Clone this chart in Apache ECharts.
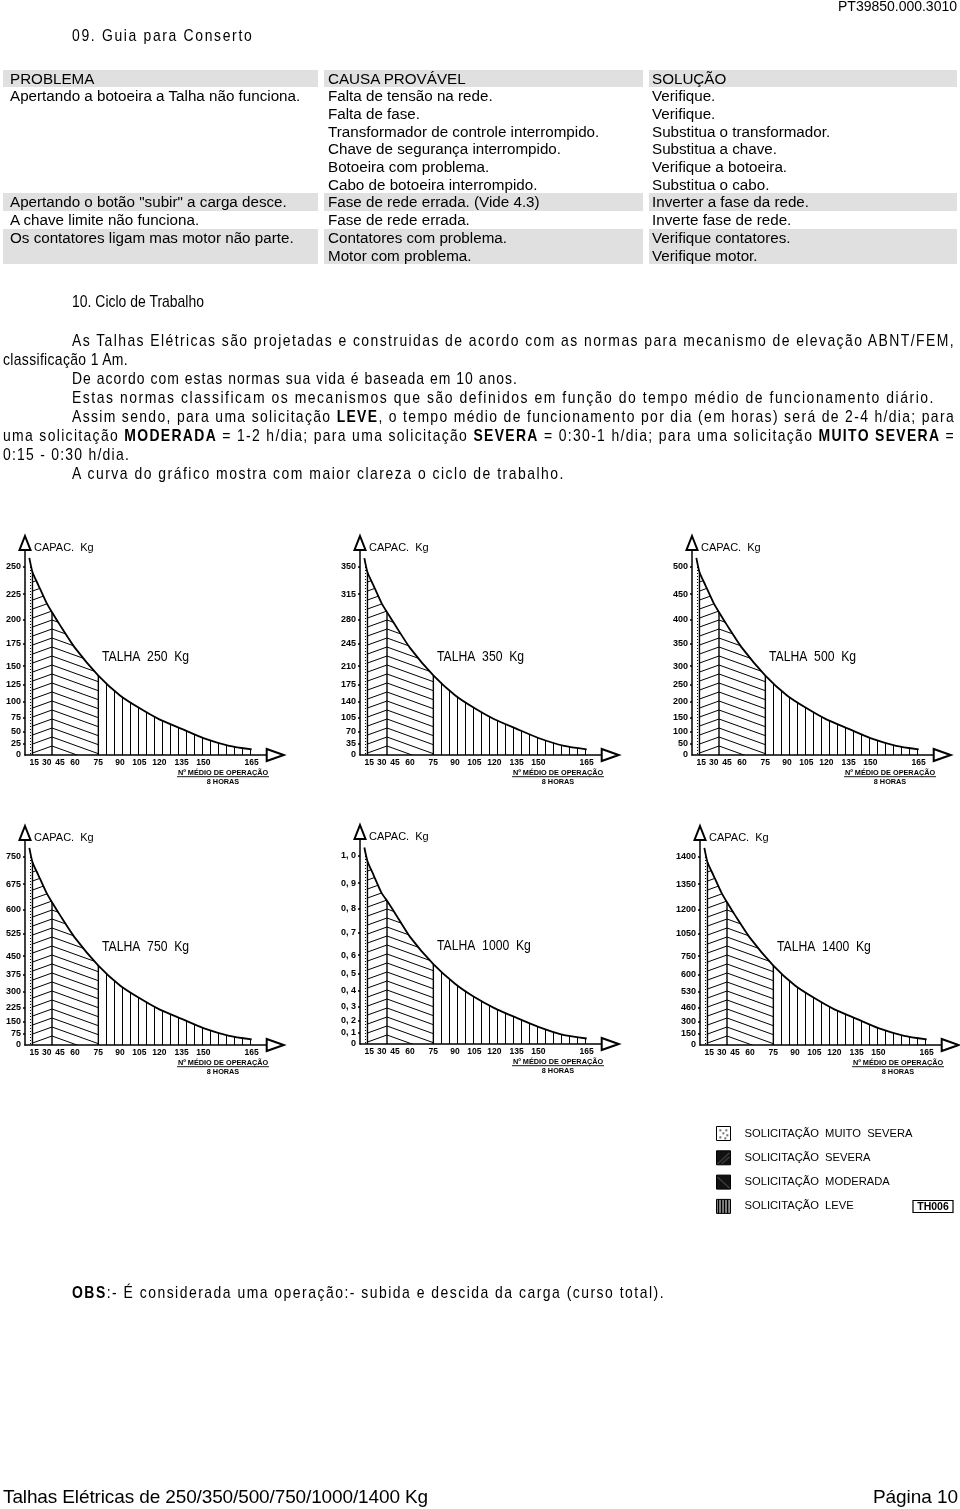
<!DOCTYPE html>
<html>
<head>
<meta charset="utf-8">
<script src="https://cdn.jsdelivr.net/npm/echarts@6/dist/echarts.min.js"></script>
<style>
html,body{margin:0;padding:0;background:#fff;}
#page{position:relative;width:960px;height:1509px;overflow:hidden;background:#fff;}
#chart{position:absolute;left:0;top:0;width:960px;height:1509px;}
.t{position:absolute;white-space:nowrap;color:#000;line-height:20px;font-family:"Liberation Sans",Arial,sans-serif;}
.nar{font-size:17px;transform:scaleX(0.82);transform-origin:0 50%;}
.band{position:absolute;background:#e0e0e0;}
.cell{position:absolute;white-space:nowrap;font-family:"Liberation Sans",Arial,sans-serif;font-size:15.2px;line-height:17.7px;color:#000;}
</style>
</head>
<body>
<div id="page">
  <div id="chart"></div>
  <div id="table"></div>

  <div class="t fit" data-w="119" style="left:838px;top:-4px;font-size:14px;">PT39850.000.3010</div>
  <div class="t nar fit" data-w="183" style="left:72px;top:26px;">09.  Guia para Conserto</div>

  <div class="t nar fit" data-w="132" style="left:72px;top:292px;">10. Ciclo de Trabalho</div>
  <div class="t nar fit" data-w="883" style="left:72px;top:331px;">As Talhas Elétricas são projetadas e construidas de acordo com as normas para mecanismo de elevação ABNT/FEM,</div>
  <div class="t nar fit" data-w="125" style="left:3px;top:350px;">classificação 1 Am.</div>
  <div class="t nar fit" data-w="446" style="left:72px;top:369px;">De acordo com estas normas sua vida é baseada em 10 anos.</div>
  <div class="t nar fit" data-w="863" style="left:72px;top:388px;">Estas normas classificam os mecanismos que são definidos em função do tempo médio de funcionamento diário.</div>
  <div class="t nar fit" data-w="883" style="left:72px;top:407px;">Assim sendo, para uma solicitação <b>LEVE</b>, o tempo médio de funcionamento por dia (em horas) será de 2-4 h/dia; para</div>
  <div class="t nar fit" data-w="952" style="left:3px;top:426px;">uma solicitação <b>MODERADA</b> = 1-2 h/dia; para uma solicitação <b>SEVERA</b> = 0:30-1 h/dia; para uma solicitação <b>MUITO SEVERA</b> =</div>
  <div class="t nar fit" data-w="127" style="left:3px;top:445px;">0:15 - 0:30 h/dia.</div>
  <div class="t nar fit" data-w="493" style="left:72px;top:464px;">A curva do gráfico mostra com maior clareza o ciclo de trabalho.</div>

  <div class="t nar fit" data-w="593" style="left:72px;top:1283px;"><b>OBS</b>:- É considerada uma operação:- subida e descida da carga (curso total).</div>

  <div class="t fit" data-w="425" style="left:3px;top:1487px;font-size:19px;">Talhas Elétricas de 250/350/500/750/1000/1400 Kg</div>
  <div class="t fit" data-w="85" style="left:873px;top:1487px;font-size:19px;">Página 10</div>
</div>

<script>
// ---------------- DATA ----------------
// Troubleshooting table
const problems  = ['PROBLEMA', 'Apertando a botoeira a Talha não funciona.', '', '', '', '', '',
                   'Apertando o botão "subir" a carga desce.', 'A chave limite não funciona.',
                   'Os contatores ligam mas motor não parte.', ''];
const causes    = ['CAUSA PROVÁVEL', 'Falta de tensão na rede.', 'Falta de fase.', 'Transformador de controle interrompido.',
                   'Chave de segurança interrompido.', 'Botoeira com problema.', 'Cabo de botoeira interrompido.',
                   'Fase de rede errada. (Vide 4.3)', 'Fase de rede errada.', 'Contatores com problema.', 'Motor com problema.'];
const solutions = ['SOLUÇÃO', 'Verifique.', 'Verifique.', 'Substitua o transformador.', 'Substitua a chave.',
                   'Verifique a botoeira.', 'Substitua o cabo.', 'Inverter a fase da rede.', 'Inverte fase de rede.',
                   'Verifique contatores.', 'Verifique motor.'];
const shadedRows = [0, 7, 9, 10];

// Duty-cycle curves: x = Nº médio de operação / 8 horas
const operations = [7, 12, 20, 30, 36, 45, 60, 75, 90, 105, 120, 135, 150, 158, 165];
const capacity250  = [258, 245, 233, 216, 207, 194, 170, 137, 109, 90, 72, 55, 37, 21, 13];
const capacity350  = [361, 343, 326, 302, 290, 272, 238, 192, 153, 126, 101, 77, 52, 29, 18];
const capacity500  = [516, 490, 466, 432, 414, 388, 340, 274, 218, 180, 144, 110, 74, 42, 26];
const capacity750  = [774, 735, 699, 648, 621, 582, 510, 411, 327, 270, 216, 165, 111, 63, 39];
const capacity1000 = [1.03, 0.98, 0.93, 0.86, 0.83, 0.78, 0.68, 0.55, 0.44, 0.36, 0.29, 0.22, 0.15, 0.08, 0.05];
const capacity1400 = [1416, 1390, 1366, 1296, 1242, 1164, 990, 672, 555, 502, 441, 332, 222, 126, 78];

// Axis tick labels as printed on the drawings
const xTicks = [15, 30, 45, 60, 75, 90, 105, 120, 135, 150, 165];
const yTicks250  = [0, 25, 50, 75, 100, 125, 150, 175, 200, 225, 250];
const yTicks350  = [0, 35, 70, 105, 140, 175, 210, 245, 280, 315, 350];
const yTicks500  = [0, 50, 100, 150, 200, 250, 300, 350, 400, 450, 500];
const yTicks750  = [0, 75, 150, 225, 300, 375, 450, 525, 600, 675, 750];
const yTicks1000 = [0, 0.1, 0.2, 0.3, 0.4, 0.5, 0.6, 0.7, 0.8, 0.9, 1.0];
const yTicks1400 = [0, 150, 300, 460, 530, 600, 750, 1050, 1200, 1350, 1400];

const chartTitles = ['TALHA  250  Kg', 'TALHA  350  Kg', 'TALHA  500  Kg', 'TALHA  750  Kg', 'TALHA  1000  Kg', 'TALHA  1400  Kg'];

// Duty classes (regions under the curve, in operations)
const regionNames  = ['SOLICITAÇÃO  MUITO  SEVERA', 'SOLICITAÇÃO  SEVERA', 'SOLICITAÇÃO  MODERADA', 'SOLICITAÇÃO  LEVE'];
const regionLimits = [[7, 12], [12, 36], [36, 75], [75, 165]];

// ---------------- LAYOUT ----------------
const chartOrigins = [[25, 755], [360, 755], [692, 755], [25, 1045], [360, 1044], [700, 1045]];
// the drawings use non-uniform axes: where each printed tick sits (fraction of the labelled span)
const X_TICK_POS = [0, 28, 65, 105, 150, 220, 285, 343, 403, 470, 535, 680].map(v => v / 680);
const Y_TICK_POS = [0, 33, 70, 112, 160, 212, 267, 335, 407, 483, 565].map(v => v / 565);
const X_SPAN = 226.7, Y_SPAN = 188.3;       // px of labelled span
const X_LEN = 241.7, Y_LEN = 205;           // px of axis line up to the arrow
const X_MAX = X_LEN / X_SPAN, Y_MAX = Y_LEN / Y_SPAN;

// ---------------- TEXT FITTING ----------------
function fitLines() {
  document.querySelectorAll('.fit').forEach(el => {
    const sc = el.classList.contains('nar') ? 0.82 : 1;
    el.style.letterSpacing = '0px';
    const w = el.getBoundingClientRect().width;
    const n = el.textContent.length;
    const target = parseFloat(el.dataset.w);
    el.style.letterSpacing = ((target - w) / (n * sc)).toFixed(3) + 'px';
  });
}
fitLines();
if (document.fonts && document.fonts.ready) document.fonts.ready.then(fitLines);

// ---------------- HELPERS ----------------
function interp(v, xs, ys) {
  const n = xs.length;
  let i = 0;
  if (v >= xs[n - 1]) i = n - 2;
  else if (v > xs[0]) { while (v > xs[i + 1]) i++; }
  const t = (v - xs[i]) / (xs[i + 1] - xs[i]);
  return ys[i] + t * (ys[i + 1] - ys[i]);
}
const X_VALS = [0].concat(xTicks);
const xw = o => interp(o, X_VALS, X_TICK_POS);
const yw = (v, ticks) => interp(v, ticks, Y_TICK_POS);

function makeCanvas(w, h, draw) {
  const c = document.createElement('canvas');
  c.width = w; c.height = h;
  draw(c.getContext('2d'), w, h);
  return c;
}
// chart hatches
const hatchDots = makeCanvas(6, 3, (g) => { g.fillStyle = '#000'; g.fillRect(1, 1, 1, 1); });
const hatchUp = makeCanvas(25, 9, (g, w, h) => {
  g.strokeStyle = '#000'; g.lineWidth = 1;
  for (const k of [0, 1, 2]) { g.beginPath(); g.moveTo(-w, h + k * h); g.lineTo(2 * w, -2 * h + k * h); g.stroke(); }
});
const hatchDown = makeCanvas(25, 9, (g, w, h) => {
  g.strokeStyle = '#000'; g.lineWidth = 1;
  for (const k of [-1, 0, 1]) { g.beginPath(); g.moveTo(-w, -h + k * h); g.lineTo(2 * w, 2 * h + k * h); g.stroke(); }
});
const hatchVert = makeCanvas(8, 4, (g) => { g.fillStyle = '#000'; g.fillRect(0, 0, 1, 4); });
const hatches = [hatchDots, hatchUp, hatchDown, hatchVert];
const anchorOps = [7, 36, 36, 75];

// legend icons
const iconDots = makeCanvas(14, 14, (g) => {
  g.fillStyle = '#fff'; g.fillRect(0, 0, 14, 14); g.fillStyle = '#000';
  [[3, 3], [9, 3], [6, 6], [10, 8], [3, 10], [8, 11]].forEach(p => g.fillRect(p[0], p[1], 1.5, 1.5));
});
const iconUp = makeCanvas(14, 14, (g) => {
  g.fillStyle = '#111'; g.fillRect(0, 0, 14, 14);
  g.strokeStyle = '#888'; g.lineWidth = 0.7;
  g.beginPath(); g.moveTo(1, 13); g.lineTo(13, 2); g.stroke();
  g.beginPath(); g.moveTo(5, 13); g.lineTo(13, 6); g.stroke();
});
const iconDown = makeCanvas(14, 14, (g) => {
  g.fillStyle = '#111'; g.fillRect(0, 0, 14, 14);
  g.strokeStyle = '#888'; g.lineWidth = 0.7;
  g.beginPath(); g.moveTo(1, 2); g.lineTo(13, 13); g.stroke();
});
const iconVert = makeCanvas(14, 14, (g) => {
  g.fillStyle = '#fff'; g.fillRect(0, 0, 14, 14); g.fillStyle = '#000';
  for (let x = 1; x < 14; x += 3) g.fillRect(x, 0, 2, 14);
});
const legendIcons = [iconDots, iconUp, iconDown, iconVert];

// ---------------- TABLE (HTML) ----------------
(function buildTable() {
  const tbl = document.getElementById('table');
  const cols = [[3, 318, 10], [324, 643, 328], [649, 957, 652]];
  const texts = [problems, causes, solutions];
  for (let i = 0; i < problems.length; i++) {
    const top = 69.5 + 17.7 * i;
    if (shadedRows.indexOf(i) >= 0) {
      cols.forEach(c => {
        const b = document.createElement('div');
        b.className = 'band';
        b.style.cssText = `left:${c[0]}px;width:${c[1] - c[0]}px;top:${top}px;height:17.8px;`;
        tbl.appendChild(b);
      });
    }
    cols.forEach((c, k) => {
      const d = document.createElement('div');
      d.className = 'cell';
      d.style.cssText = `left:${c[2]}px;top:${top}px;`;
      d.textContent = texts[k][i];
      tbl.appendChild(d);
    });
  }
})();

// ---------------- CHARTS ----------------
const charts = [
  { values: capacity250,  ticks: yTicks250 },
  { values: capacity350,  ticks: yTicks350 },
  { values: capacity500,  ticks: yTicks500 },
  { values: capacity750,  ticks: yTicks750 },
  { values: capacity1000, ticks: yTicks1000, comma: true },
  { values: capacity1400, ticks: yTicks1400 }
];

const grid = [], xAxis = [], yAxis = [], series = [], graphic = [];
const REG = '"Liberation Sans",Arial,sans-serif';

charts.forEach((c, ci) => {
  const [ox, oy] = chartOrigins[ci];
  grid.push({ left: ox, top: oy - Y_LEN, width: X_LEN, height: Y_LEN, containLabel: false });
  xAxis.push({
    type: 'value', gridIndex: ci, min: 0, max: X_MAX,
    splitLine: { show: false },
    axisTick: { show: false },
    axisLine: { show: true, lineStyle: { color: '#000', width: 1.5 },
      symbol: ['none', 'emptyTriangle'], symbolSize: [12, 17], symbolOffset: [0, 8.5] },
    axisLabel: {
      customValues: X_TICK_POS.slice(1), margin: 3,
      fontFamily: REG, fontSize: 8.5, fontWeight: 'bold', color: '#000',
      formatter: v => { const i = X_TICK_POS.findIndex(p => Math.abs(p - v) < 1e-6); return i > 0 ? String(X_VALS[i]) : ''; }
    }
  });
  yAxis.push({
    type: 'value', gridIndex: ci, min: 0, max: Y_MAX,
    splitLine: { show: false },
    name: 'CAPAC.  Kg', nameLocation: 'end', nameGap: 2,
    nameTextStyle: { fontFamily: REG, fontSize: 11, color: '#000', align: 'left', verticalAlign: 'middle', padding: [0, 0, 0, 9] },
    axisTick: { show: true, customValues: Y_TICK_POS.slice(1), length: 2, lineStyle: { color: '#000', width: 1.5 } },
    axisLine: { show: true, lineStyle: { color: '#000', width: 1.5 },
      symbol: ['none', 'emptyTriangle'], symbolSize: [11, 14], symbolOffset: [0, 7] },
    axisLabel: {
      customValues: Y_TICK_POS, margin: 4,
      fontFamily: REG, fontSize: 9, fontWeight: 'bold', color: '#000',
      formatter: v => {
        const i = Y_TICK_POS.findIndex(p => Math.abs(p - v) < 1e-6);
        if (i < 0) return '';
        const n = c.ticks[i];
        return (c.comma && n !== 0) ? n.toFixed(1).replace('.', ', ') : String(n);
      }
    }
  });

  regionNames.forEach((name, ri) => {
    series.push({
      type: 'custom', name, xAxisIndex: ci, yAxisIndex: ci, coordinateSystem: 'cartesian2d',
      data: [[0, 0]], silent: true, z: 2, animation: false,
      itemStyle: { color: { image: legendIcons[ri], repeat: 'repeat' } },
      renderItem: (params, api) => {
        const [a, b] = regionLimits[ri];
        const pts = [api.coord([xw(a), 0])];
        operations.forEach((o, k) => {
          if (o >= a && o <= b) pts.push(api.coord([xw(o), yw(c.values[k], c.ticks)]));
        });
        pts.push(api.coord([xw(b), 0]));
        const anc = api.coord([xw(anchorOps[ri]), 0]);
        const children = [{
          type: 'polygon', shape: { points: pts },
          style: { fill: { image: hatches[ri], repeat: 'repeat', x: Math.round(anc[0]), y: Math.round(anc[1]) }, stroke: null }
        }];
        if (ri > 0) {
          children.push({ type: 'line', shape: { x1: pts[0][0], y1: pts[0][1], x2: pts[1][0], y2: pts[1][1] },
            style: { stroke: '#000', lineWidth: 1.4 } });
        }
        return { type: 'group', children };
      }
    });
  });

  series.push({
    type: 'line', name: 'curva', xAxisIndex: ci, yAxisIndex: ci, z: 4, silent: true,
    symbol: 'none', smooth: 0.2, animation: false,
    lineStyle: { color: '#000', width: 1.8 },
    data: operations.map((o, k) => [xw(o), yw(c.values[k], c.ticks)])
  });

  graphic.push({ type: 'text', x: ox + 77, y: oy - 98, scaleX: 0.87, silent: true,
    style: { text: chartTitles[ci], fontFamily: REG, fontSize: 14, fill: '#000', align: 'left', verticalAlign: 'middle' } });
  graphic.push({ type: 'text', x: ox + 198, y: oy + 18, silent: true,
    style: { text: 'Nº MÉDIO DE OPERAÇÃO', fontFamily: REG, fontSize: 7.3, fontWeight: 'bold', fill: '#000', align: 'center', verticalAlign: 'middle' } });
  graphic.push({ type: 'line', silent: true, shape: { x1: ox + 152, y1: oy + 21.7, x2: ox + 244, y2: oy + 21.7 },
    style: { stroke: '#000', lineWidth: 0.9 } });
  graphic.push({ type: 'text', x: ox + 198, y: oy + 27.3, silent: true,
    style: { text: '8 HORAS', fontFamily: REG, fontSize: 7.3, fontWeight: 'bold', fill: '#000', align: 'center', verticalAlign: 'middle' } });
});

graphic.push({ type: 'rect', silent: true, shape: { x: 913, y: 1200.5, width: 40, height: 12 },
  style: { fill: 'none', stroke: '#000', lineWidth: 1.2 } });
graphic.push({ type: 'text', x: 933, y: 1207, silent: true,
  style: { text: 'TH006', fontFamily: REG, fontSize: 10.5, fontWeight: 'bold', fill: '#000', align: 'center', verticalAlign: 'middle' } });

const chart = echarts.init(document.getElementById('chart'), null, { renderer: 'canvas', width: 960, height: 1509 });
chart.setOption({
  animation: false,
  backgroundColor: '#fff',
  grid, xAxis, yAxis, series, graphic,
  legend: {
    orient: 'vertical', left: 716, top: 1126, padding: 0, itemWidth: 14, itemHeight: 14, itemGap: 9.3,
    selectedMode: false,
    textStyle: { fontFamily: REG, fontSize: 11.2, color: '#000', padding: [0, 0, 0, 9] },
    data: regionNames.map((n, i) => ({
      name: n, icon: 'rect',
      itemStyle: { color: { image: legendIcons[i], repeat: 'repeat' }, borderColor: '#000', borderWidth: 1 }
    }))
  }
});
</script>
</body>
</html>
